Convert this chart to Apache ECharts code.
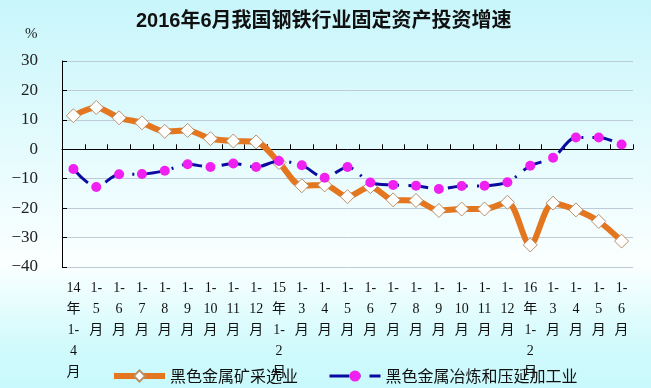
<!DOCTYPE html>
<html>
<head>
<meta charset="utf-8">
<script src="https://cdn.jsdelivr.net/npm/echarts@6/dist/echarts.min.js"></script>
<style>html,body{margin:0;padding:0;}#c{width:651px;height:388px;}</style>
</head>
<body>
<div id="c"></div>
<script>
var categories = ['14年1-4月','1-5月','1-6月','1-7月','1-8月','1-9月','1-10月','1-11月','1-12月',
  '15年1-2月','1-3月','1-4月','1-5月','1-6月','1-7月','1-8月','1-9月','1-10月','1-11月','1-12月',
  '16年1-2月','1-3月','1-4月','1-5月','1-6月'];
var tickLabels = ['14\n年\n1-\n4\n月','1-\n5\n月','1-\n6\n月','1-\n7\n月','1-\n8\n月','1-\n9\n月','1-\n10\n月','1-\n11\n月','1-\n12\n月',
  '15\n年\n1-\n2\n月','1-\n3\n月','1-\n4\n月','1-\n5\n月','1-\n6\n月','1-\n7\n月','1-\n8\n月','1-\n9\n月','1-\n10\n月','1-\n11\n月','1-\n12\n月',
  '16\n年\n1-\n2\n月','1-\n3\n月','1-\n4\n月','1-\n5\n月','1-\n6\n月'];
var miningName = '黑色金属矿采选业';
var miningValues = [11.4, 14.2, 10.7, 9.0, 6.1, 6.4, 3.6, 2.8, 2.5,
  -4.5, -12.4, -12.1, -16.1, -12.7, -17.2, -17.4, -20.8, -20.3, -20.3, -18.0,
  -32.5, -18.3, -20.6, -24.5, -31.2];
var smeltName = '黑色金属冶炼和压延加工业';
var smeltValues = [-6.7, -12.8, -8.5, -8.4, -7.3, -5.1, -6.0, -4.8, -6.0,
  -4.0, -5.4, -9.7, -6.0, -11.3, -12.1, -12.4, -13.5, -12.5, -12.4, -11.2,
  -5.6, -2.9, 4.0, 4.0, 1.6];
var yMin = -40, yMax = 30, yStep = 10;

var chart = echarts.init(document.getElementById('c'), null, {renderer: 'canvas'});
var serifFont = 'Liberation Serif, DejaVu Serif, serif';
chart.setOption({
  animation: false,
  backgroundColor: {
    type: 'linear', x: 0, y: 0, x2: 0, y2: 1,
    colorStops: [
      {offset: 0, color: '#c8f6fb'},
      {offset: 0.68, color: '#fbffff'},
      {offset: 0.9, color: '#d0fafc'},
      {offset: 1, color: '#c9f9fc'}
    ]
  },
  title: {
    text: '2016年6月我国钢铁行业固定资产投资增速',
    left: 131, top: 6,
    textStyle: {fontFamily: 'Liberation Sans, Noto Sans CJK SC, sans-serif', fontWeight: 'bold', fontSize: 20, color: '#111'}
  },
  graphic: [{
    type: 'text', left: 25, top: 27,
    style: {text: '%', fontFamily: serifFont, fontSize: 15, fill: '#222'}
  }],
  legend: {
    left: 106, top: 363,
    itemGap: 30,
    itemWidth: 51, itemHeight: 14,
    textStyle: {fontFamily: 'Noto Sans CJK SC, sans-serif', fontSize: 16, color: '#111'},
    data: [
      {name: miningName, lineStyle: {width: 6, color: '#e3761f'}},
      {name: smeltName, lineStyle: {width: 3, color: '#0a0aa0'}}
    ]
  },
  grid: {left: 62, right: 18, top: 61, bottom: 121, containLabel: false},
  xAxis: [{
    type: 'category', data: tickLabels, position: 'bottom',
    axisLine: {show: false, onZero: false},
    axisTick: {show: false},
    axisLabel: {interval: 0, margin: 11, fontFamily: 'Liberation Serif, Noto Sans CJK SC, serif', fontSize: 14, lineHeight: 21, color: '#111'}
  }, {
    type: 'category', data: tickLabels, position: 'bottom',
    axisLine: {show: true, onZero: true, lineStyle: {color: '#000', width: 1}},
    axisTick: {show: true, inside: true, length: 5, lineStyle: {color: '#000'}},
    axisLabel: {show: false}
  }],
  yAxis: {
    type: 'value', min: yMin, max: yMax, interval: yStep,
    axisLine: {show: true, lineStyle: {color: '#000', width: 1}},
    axisTick: {show: true, inside: true, length: 5, lineStyle: {color: '#000'}},
    axisLabel: {margin: 24, fontFamily: serifFont, fontSize: 17, color: '#222',
      formatter: function (v) { return String(v).replace('-', '\u2212'); }},
    splitLine: {show: true, lineStyle: {color: '#bccbd8', width: 1}}
  },
  series: [{
    name: miningName, type: 'line', xAxisIndex: 0, data: miningValues,
    smooth: 0.3,
    lineStyle: {color: '#e3761f', width: 6},
    itemStyle: {color: '#ffffff', borderColor: '#b8906a', borderWidth: 1},
    symbol: 'diamond', symbolSize: 14, z: 2
  }, {
    name: smeltName, type: 'line', xAxisIndex: 0, data: smeltValues,
    smooth: 0.3,
    lineStyle: {color: '#0a0aa0', width: 3, type: [20, 9, 2, 9]},
    itemStyle: {color: '#f020f0', borderWidth: 0},
    symbol: 'circle', symbolSize: 10, z: 3
  }]
});
</script>
</body>
</html>
